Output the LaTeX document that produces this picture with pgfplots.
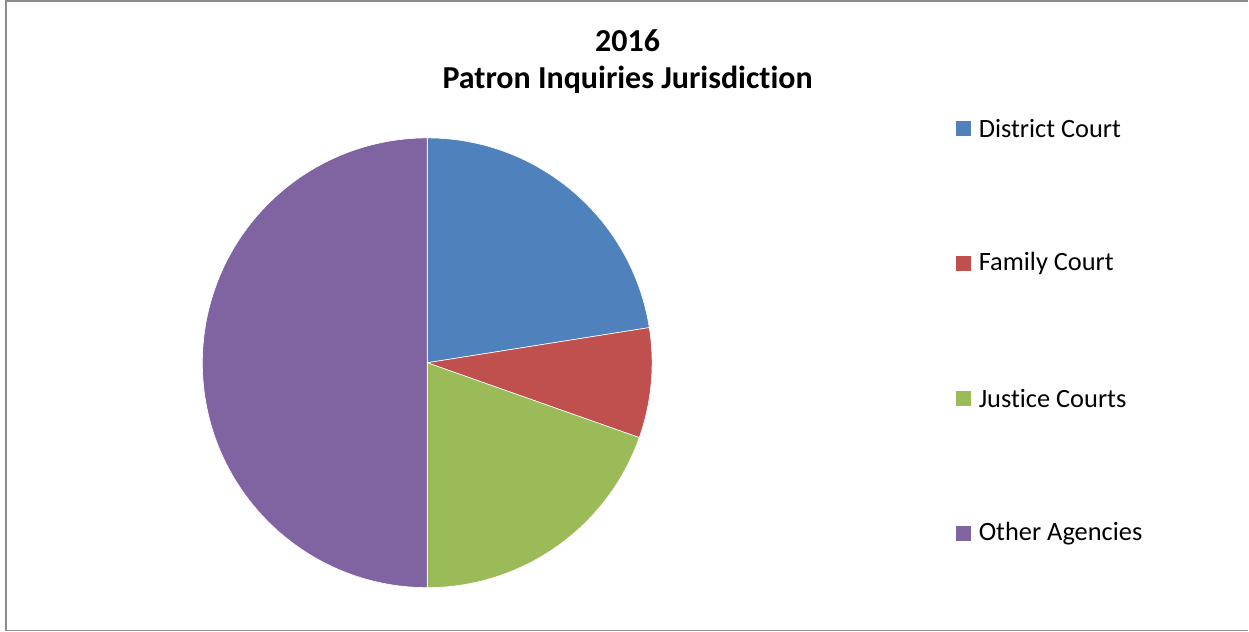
\documentclass[border=0pt]{standalone}
\usepackage{pgfplots}
\pgfplotsset{compat=1.18}
\usepackage{fontspec}
\setmainfont{Carlito}[Ligatures=NoCommon]

\definecolor{cDistrict}{HTML}{4F81BD}
\definecolor{cFamily}{HTML}{C0504D}
\definecolor{cJustice}{HTML}{9BBB59}
\definecolor{cOther}{HTML}{8064A2}

% shares in percent
\def\vDistrict{22.5}
\def\vFamily{7.9}
\def\vJustice{19.6}
\def\vOther{50.0}

% cumulative angles, clockwise from 12 o'clock
\pgfmathsetmacro\aA{90}
\pgfmathsetmacro\aB{\aA-3.6*\vDistrict}
\pgfmathsetmacro\aC{\aB-3.6*\vFamily}
\pgfmathsetmacro\aD{\aC-3.6*\vJustice}
\pgfmathsetmacro\aE{\aD-3.6*\vOther}

\begin{document}
\begin{tikzpicture}
\begin{axis}[
    width=624.5pt, height=316pt, scale only axis,
    xmin=0, xmax=1249, ymin=0, ymax=632,
    axis lines=none, clip=false
]
% page extent and frame (right side runs off the picture)
\path (axis cs:0,0) rectangle (axis cs:1249,632);
\draw[color=gray!90, line width=0.8pt] (axis cs:1249,631) -- (axis cs:6,631) -- (axis cs:6,1) -- (axis cs:1249,1);

% slices (radius 225 units = 112.5pt)
\fill[cDistrict, draw=white, line width=0.3pt] (axis cs:427.5,269) -- ++(\aA:112.5pt) arc[start angle=\aA, end angle=\aB, radius=112.5pt] -- cycle;
\fill[cFamily, draw=white, line width=0.3pt] (axis cs:427.5,269) -- ++(\aB:112.5pt) arc[start angle=\aB, end angle=\aC, radius=112.5pt] -- cycle;
\fill[cJustice, draw=white, line width=0.3pt] (axis cs:427.5,269) -- ++(\aC:112.5pt) arc[start angle=\aC, end angle=\aD, radius=112.5pt] -- cycle;
\fill[cOther, draw=white, line width=0.3pt] (axis cs:427.5,269) -- ++(\aD:112.5pt) arc[start angle=\aD, end angle=\aE, radius=112.5pt] -- cycle;

% title
\node[font=\fontsize{16}{19}\selectfont\bfseries] at (axis cs:628,591) {2016};
\node[font=\fontsize{16}{19}\selectfont\bfseries] at (axis cs:628,552) {Patron Inquiries Jurisdiction};

% legend
\fill[cDistrict] (axis cs:957,495.5) rectangle (axis cs:972,510.5);
\fill[cFamily]   (axis cs:957,360.5) rectangle (axis cs:972,375.5);
\fill[cJustice]  (axis cs:957,225.5) rectangle (axis cs:972,240.5);
\fill[cOther]    (axis cs:957,90.5)  rectangle (axis cs:972,105.5);
\node[anchor=west, inner sep=0pt, font=\fontsize{13.2}{16}\selectfont] at (axis cs:979,503) {District Court};
\node[anchor=west, inner sep=0pt, font=\fontsize{13.2}{16}\selectfont] at (axis cs:979,368) {Family Court};
\node[anchor=west, inner sep=0pt, font=\fontsize{13.2}{16}\selectfont] at (axis cs:979,233) {Justice Courts};
\node[anchor=west, inner sep=0pt, font=\fontsize{13.2}{16}\selectfont] at (axis cs:979,98) {Other Agencies};
\end{axis}
\end{tikzpicture}
\end{document}
